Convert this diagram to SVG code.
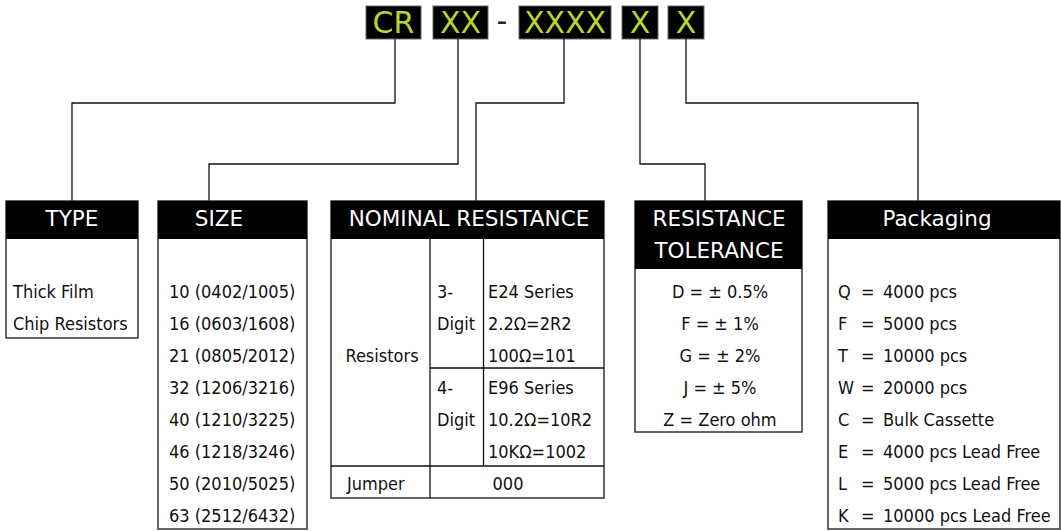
<svg xmlns="http://www.w3.org/2000/svg" width="1061" height="531" viewBox="0 0 1061 531">
<style>
.code{fill:#000;stroke:#666;stroke-width:1}
.ct{font-family:"DejaVu Sans",sans-serif;font-size:30px;fill:#b8d431;text-anchor:middle}
.box{fill:#fff;stroke:#333;stroke-width:1.5}
.hd{fill:#000}
.ht{font-family:"DejaVu Sans",sans-serif;font-size:21.5px;fill:#fff;text-anchor:middle}
.bt{font-family:"DejaVu Sans Condensed","DejaVu Sans",sans-serif;font-size:18px;fill:#111}
.mid{text-anchor:middle}
.ln{fill:none;stroke:#111;stroke-width:1.3}
.cn{fill:none;stroke:#111;stroke-width:1.3}
</style>
<rect width="1061" height="531" fill="#fff"/>
<g id="code">
<rect class="code" x="366" y="6" width="55" height="33"/><text class="ct" x="393.5" y="33">CR</text>
<rect class="code" x="433" y="6" width="55" height="33"/><text class="ct" x="460.5" y="33">XX</text>
<text x="502" y="31" style="font-family:'DejaVu Sans',sans-serif;font-size:30px;fill:#222;text-anchor:middle">-</text>
<rect class="code" x="519" y="6" width="92" height="33"/><text class="ct" x="565" y="33">XXXX</text>
<rect class="code" x="622" y="6" width="36" height="33"/><text class="ct" x="640" y="33">X</text>
<rect class="code" x="668" y="6" width="36" height="33"/><text class="ct" x="686" y="33">X</text>
</g>
<g id="connectors">
<polyline class="cn" points="395,39 395,103 72,103 72,201"/>
<polyline class="cn" points="458,39 458,164 209,164 209,201"/>
<polyline class="cn" points="564,39 564,103 476,103 476,201"/>
<polyline class="cn" points="640,39 640,164 705,164 705,201"/>
<polyline class="cn" points="686,39 686,103 918,103 918,201"/>
</g>
<g id="type">
<rect class="box" x="6" y="201" width="132" height="137"/>
<rect class="hd" x="6" y="201" width="132" height="38"/>
<text class="ht" x="72" y="226">TYPE</text>
<text class="bt" x="13" y="298">Thick Film</text>
<text class="bt" x="13" y="330">Chip Resistors</text>
</g>
<g id="size">
<rect class="box" x="158" y="201" width="149" height="328"/>
<rect class="hd" x="158" y="201" width="149" height="38"/>
<text class="ht" x="219" y="226">SIZE</text>
<text class="bt" x="169" y="298">10 (0402/1005)</text>
<text class="bt" x="169" y="330">16 (0603/1608)</text>
<text class="bt" x="169" y="362">21 (0805/2012)</text>
<text class="bt" x="169" y="394">32 (1206/3216)</text>
<text class="bt" x="169" y="426">40 (1210/3225)</text>
<text class="bt" x="169" y="458">46 (1218/3246)</text>
<text class="bt" x="169" y="490">50 (2010/5025)</text>
<text class="bt" x="169" y="522">63 (2512/6432)</text>
</g>
<g id="nominal">
<rect class="box" x="331" y="201" width="273" height="297"/>
<rect class="hd" x="331" y="201" width="273" height="38"/>
<text class="ht" x="469" y="226">NOMINAL RESISTANCE</text>
<line class="ln" x1="430" y1="239" x2="430" y2="498"/>
<line class="ln" x1="483.5" y1="239" x2="483.5" y2="466"/>
<line class="ln" x1="430" y1="368" x2="604" y2="368"/>
<line class="ln" x1="331" y1="466" x2="604" y2="466"/>
<text class="bt mid" x="382" y="362">Resistors</text>
<text class="bt" x="437" y="298">3-</text>
<text class="bt" x="437" y="330">Digit</text>
<text class="bt" x="488" y="298">E24 Series</text>
<text class="bt" x="488" y="330">2.2Ω=2R2</text>
<text class="bt" x="488" y="362">100Ω=101</text>
<text class="bt" x="437" y="394">4-</text>
<text class="bt" x="437" y="426">Digit</text>
<text class="bt" x="488" y="394">E96 Series</text>
<text class="bt" x="488" y="426">10.2Ω=10R2</text>
<text class="bt" x="488" y="458">10KΩ=1002</text>
<text class="bt" x="347" y="490">Jumper</text>
<text class="bt mid" x="508" y="490">000</text>
</g>
<g id="tolerance">
<rect class="box" x="635" y="201" width="167" height="231"/>
<rect class="hd" x="635" y="201" width="167" height="68"/>
<text class="ht" x="719" y="226">RESISTANCE</text>
<text class="ht" x="719" y="258">TOLERANCE</text>
<text class="bt mid" x="720" y="298">D = ± 0.5%</text>
<text class="bt mid" x="720" y="330">F = ± 1%</text>
<text class="bt mid" x="720" y="362">G = ± 2%</text>
<text class="bt mid" x="720" y="394">J = ± 5%</text>
<text class="bt mid" x="720" y="426">Z = Zero ohm</text>
</g>
<g id="packaging">
<rect class="box" x="828" y="201" width="232" height="328"/>
<rect class="hd" x="828" y="201" width="232" height="38"/>
<text class="ht" x="937" y="226">Packaging</text>
<g class="bt">
<text x="838" y="298">Q</text><text x="861" y="298">=</text><text x="883" y="298">4000 pcs</text>
<text x="838" y="330">F</text><text x="861" y="330">=</text><text x="883" y="330">5000 pcs</text>
<text x="838" y="362">T</text><text x="861" y="362">=</text><text x="883" y="362">10000 pcs</text>
<text x="838" y="394">W</text><text x="861" y="394">=</text><text x="883" y="394">20000 pcs</text>
<text x="838" y="426">C</text><text x="861" y="426">=</text><text x="883" y="426">Bulk Cassette</text>
<text x="838" y="458">E</text><text x="861" y="458">=</text><text x="883" y="458">4000 pcs Lead Free</text>
<text x="838" y="490">L</text><text x="861" y="490">=</text><text x="883" y="490">5000 pcs Lead Free</text>
<text x="838" y="522">K</text><text x="861" y="522">=</text><text x="883" y="522">10000 pcs Lead Free</text>
</g>
</g>
</svg>
